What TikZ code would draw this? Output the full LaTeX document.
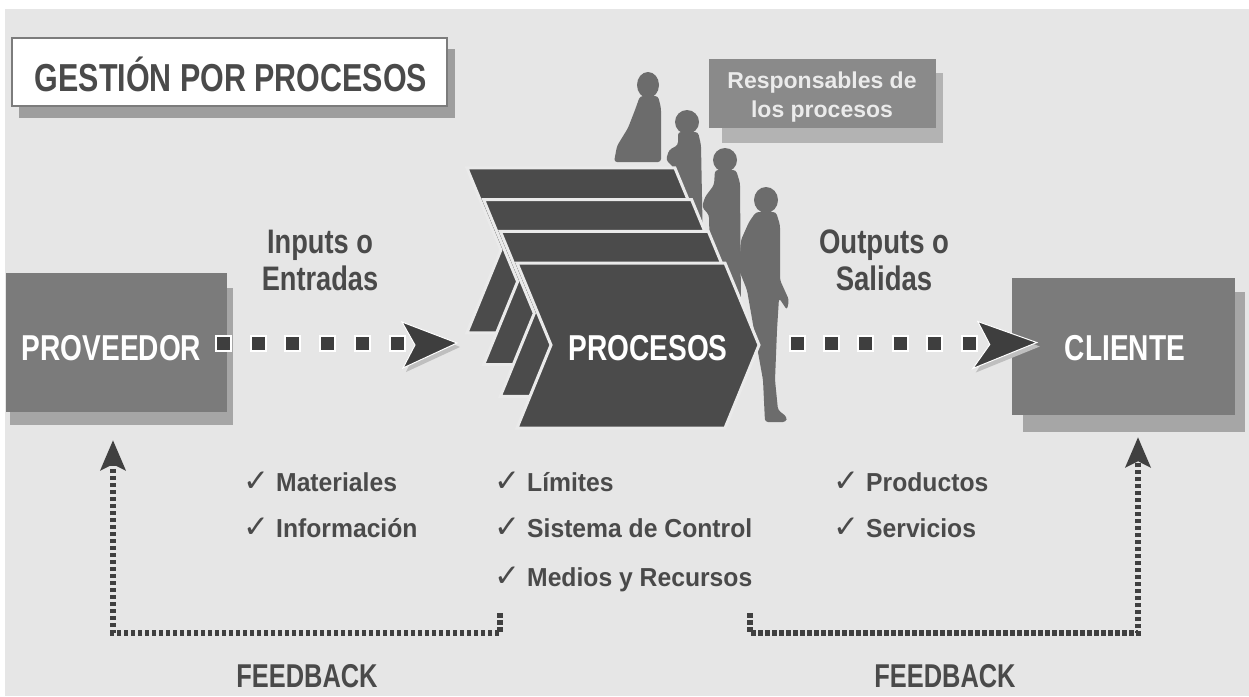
\documentclass[tikz,border=0pt]{standalone}
\usepackage{fontspec}
\usepackage{graphicx}
\setmainfont{Liberation Sans}
\newfontfamily\chkfont{DejaVu Sans}
\usetikzlibrary{arrows.meta,calc}
\definecolor{bgc}{HTML}{E6E6E6}
\definecolor{txtc}{HTML}{4A4A4A}
\definecolor{titleb}{HTML}{7C7C7C}
\definecolor{shdA}{HTML}{9E9E9E}
\definecolor{boxc}{HTML}{7B7B7B}
\definecolor{boxsh}{HTML}{A6A6A6}
\definecolor{respc}{HTML}{8A8A8A}
\definecolor{respsh}{HTML}{B3B3B3}
\definecolor{chevc}{HTML}{4B4B4B}
\definecolor{chevline}{HTML}{EAEAEA}
\definecolor{persc}{HTML}{6C6C6C}
\definecolor{sqc}{HTML}{3E3E3E}
\definecolor{dotc}{HTML}{404040}
\newcommand{\nar}[2][0.79]{\scalebox{#1}[1]{#2}}
\newcommand{\chk}{{\chkfont\mdseries\fontsize{31}{34}\selectfont\color{txtc}✓}}
\begin{document}
\begin{tikzpicture}[x=1pt,y=-1pt,
  lbl/.style={text=txtc, font=\bfseries\fontsize{34}{40}\selectfont, anchor=base, inner sep=0pt},
  big/.style={text=white, font=\bfseries\fontsize{36}{42}\selectfont, anchor=base, inner sep=0pt},
  item/.style={text=txtc, font=\bfseries\fontsize{26}{30}\selectfont, anchor=base west, inner sep=0pt},
  fbtext/.style={text=txtc, font=\bfseries\fontsize{33}{38}\selectfont, anchor=base, inner sep=0pt},
  sq/.style={rectangle, minimum size=15pt, inner sep=0pt, fill=sqc, draw=white, line width=2pt},
  fbline/.style={draw=dotc, line width=5.5pt, dash pattern=on 4.5pt off 2.5pt},
  chevron/.style={fill=chevc, draw=chevline, line width=3pt, line join=miter},
  person/.style={fill=persc, rounded corners=3pt},
  ahead/.style={fill=sqc, draw=white, line width=1pt, line join=miter},
  aheadsh/.style={fill=black!25},
  tip/.style={-{Stealth[length=30pt,width=25pt,inset=6pt]}}
]
\useasboundingbox (0,0) rectangle (1249,696);
\fill[white] (0,0) rectangle (1249,696);
\fill[bgc] (5,9) rectangle (1249,696);

% title
\fill[shdA] (19,49) rectangle (455,118);
\node[draw=titleb, line width=2pt, fill=white, minimum width=435pt, minimum height=68pt, inner sep=0pt] (title) at (229.5,72) {};
\node[text=txtc, font=\bfseries\fontsize{39}{44}\selectfont, anchor=base, inner sep=0pt] (titletxt) at (231,91) {\nar[0.78]{GESTIÓN POR PROCESOS}};

% responsables box
\fill[respsh] (722,73) rectangle (943,143);
\node[fill=respc, minimum width=227pt, minimum height=69pt, inner sep=0pt] (resp) at (822.5,93.5) {};
\node[text=white!92!black, font=\bfseries\fontsize{23}{27}\selectfont, anchor=base, inner sep=0pt] (resp1) at (822,88) {Responsables de};
\node[text=white!92!black, font=\bfseries\fontsize{23}{27}\selectfont, anchor=base, inner sep=0pt] (resp2) at (822,117) {los procesos};

% persons (behind the chevrons)
\fill[persc] (648,85) ellipse [x radius=11pt, y radius=13pt];
\fill[person] (640,96) -- (658,96) -- (661,108) -- (661,162) -- (614,162) -- (617,146) -- (628,128) -- (635,110) -- cycle;
\fill[persc] (687,122) ellipse [x radius=12pt, y radius=12pt];
\fill[person] (678,132) -- (698,132) -- (701,145) -- (703,250) -- (676,250) -- (674,168) -- (666,160) -- (669,150) -- (678,145) -- cycle;
\fill[persc] (725,160) ellipse [x radius=12pt, y radius=12pt];
\fill[person] (715,170) -- (736,170) -- (740,183) -- (741,310) -- (711,310) -- (709,215) -- (702,207) -- (705,197) -- (714,185) -- cycle;
\fill[persc] (766,200) ellipse [x radius=12pt, y radius=13pt];
\fill[person] (756,212) -- (776,212) -- (780,225) -- (780,280) -- (789,300) -- (787,310) -- (779,298) -- (777,330) -- (775,380) -- (778,410) -- (787,417) -- (786,422) -- (765,422) -- (763,380) -- (754,330) -- (747,290) -- (739,270) -- (741,240) -- (749,222) -- cycle;

% chevrons
\foreach \k in {3,2,1,0}{
  \begin{scope}[shift={(-16.7*\k,-31.7*\k)}]
    \filldraw[chevron] (517,263) -- (725,263) -- (759,345) -- (725,428) -- (517,428) -- (551,345) -- cycle;
  \end{scope}
}
\coordinate (procin) at (551,345);
\coordinate (procout) at (759,345);
\node[big] (proc) at (648,360) {\nar[0.78]{PROCESOS}};

% proveedor
\fill[boxsh] (10,288) rectangle (233,425);
\node[fill=boxc, minimum width=221pt, minimum height=139pt, inner sep=0pt] (prov) at (116.5,342.5) {};
\node[big] (provtxt) at (111.5,360) {\nar[0.78]{PROVEEDOR}};

% cliente
\fill[boxsh] (1023,292) rectangle (1245,432);
\node[fill=boxc, minimum width=223pt, minimum height=137pt, inner sep=0pt] (cli) at (1123.5,346.5) {};
\node[big] (clitxt) at (1125,360) {\nar[0.78]{CLIENTE}};

% inputs chain
\foreach \i in {0,...,5}{
  \node[sq] (in\i) at ($(prov.east)+(-4+34.8*\i,1)$) {};
}
\coordinate (inTip) at ($(procin)+(-94,-2)$);
\fill[aheadsh] ($(inTip)+(-52,-19)$) -- ($(inTip)+(3,4)$) -- ($(inTip)+(-51,29)$) -- ($(inTip)+(-39,4)$) -- cycle;
\filldraw[ahead] ($(inTip)+(-55,-21)$) -- (inTip) -- ($(inTip)+(-54,25)$) -- ($(inTip)+(-42,2)$) -- cycle;

% outputs chain
\foreach \i in {0,...,5}{
  \node[sq] (out\i) at ($(procout)+(38+34.4*\i,-2)$) {};
}
\coordinate (outTip) at ($(cli.west)+(25,-4)$);
\fill[aheadsh] ($(outTip)+(-56,-19)$) -- ($(outTip)+(3,4)$) -- ($(outTip)+(-61,30)$) -- ($(outTip)+(-44,4)$) -- cycle;
\filldraw[ahead] ($(outTip)+(-59,-21)$) -- (outTip) -- ($(outTip)+(-64,26)$) -- ($(outTip)+(-47,2)$) -- cycle;

% labels
\node[lbl] (in1) at (320,253) {\nar[0.8]{Inputs o}};
\node[lbl] (in2) at (320,290) {\nar[0.8]{Entradas}};
\node[lbl] (outl1) at (884,253) {\nar[0.81]{Outputs o}};
\node[lbl] (outl2) at (884,290) {\nar[0.81]{Salidas}};

% items
\node[item] (mat) at (243,491) {\chk\hspace{7pt}\nar[0.95]{Materiales}};
\node[item] (inf) at (243,537) {\chk\hspace{7pt}\nar[0.95]{Información}};
\node[item] (lim) at (494,491) {\chk\hspace{7pt}\nar[0.95]{Límites}};
\node[item] (sis) at (494,537) {\chk\hspace{7pt}\nar[0.95]{Sistema de Control}};
\node[item] (med) at (494,586) {\chk\hspace{7pt}\nar[0.95]{Medios y Recursos}};
\node[item] (pro) at (833,491) {\chk\hspace{7pt}\nar[0.95]{Productos}};
\node[item] (ser) at (833,537) {\chk\hspace{7pt}\nar[0.95]{Servicios}};

% feedback
\coordinate (fbL) at (500,613);
\coordinate (fbR) at (750,613);
\draw[fbline, tip] (fbL) -- ++(0,20) -| ($(prov.south)+(-3.5,28)$);
\draw[fbline, tip] (fbR) -- ++(0,20) -| ($(cli.south)+(14.5,22)$);
\node[fbtext] (fb1) at (307,687) {\nar[0.77]{FEEDBACK}};
\node[fbtext] (fb2) at (945,687) {\nar[0.77]{FEEDBACK}};
\end{tikzpicture}
\end{document}
